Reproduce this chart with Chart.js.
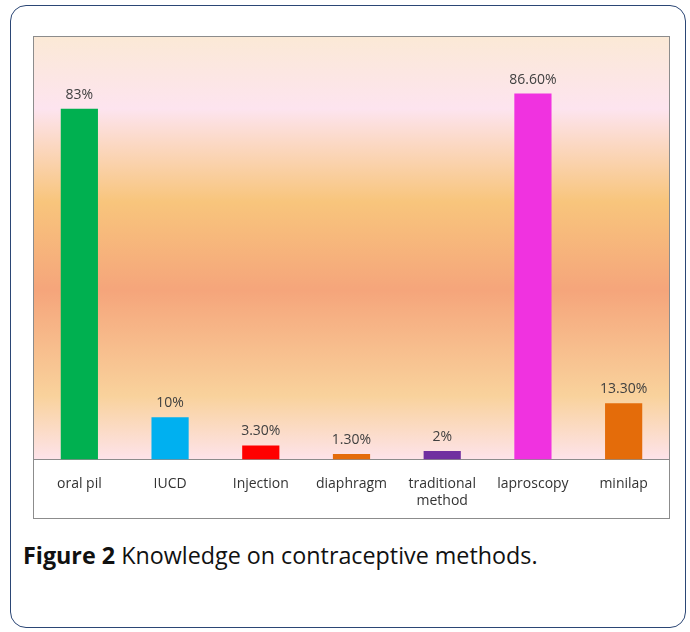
<!DOCTYPE html>
<html>
<head>
<meta charset="utf-8">
<script src="https://cdn.jsdelivr.net/npm/chart.js@4.4.0/dist/chart.umd.min.js"></script>
<style>
  body { margin: 0; background: #fff; font-family: "Open Sans", sans-serif; }
  #frame {
    position: absolute; left: 10px; top: 5px; width: 676px; height: 623px;
    box-sizing: border-box; border: 1.5px solid #2b4675; border-radius: 16px;
  }
  #box {
    position: absolute; left: 33px; top: 36px; width: 637px; height: 483px;
    box-sizing: border-box; border: 1px solid #8c8c8c;
  }
  #chart { position: absolute; left: 0; top: 0; }
  #caption {
    position: absolute; left: 23px; top: 540px; font-size: 23.3px; line-height: 30px; color: #111;
  }
</style>
</head>
<body>
<div id="frame"></div>
<div id="box"><canvas id="chart" width="635" height="480"></canvas></div>
<div id="caption"><b>Figure 2</b> Knowledge on contraceptive methods.</div>
<script>
// chart data
const methods = ["oral pil", "IUCD", "Injection", "diaphragm", ["traditional", "method"], "laproscopy", "minilap"];
const knowledge = [83, 10, 3.3, 1.3, 2, 86.6, 13.3];
const valueLabels = ["83%", "10%", "3.30%", "1.30%", "2%", "86.60%", "13.30%"];
const barColors = ["#00b050", "#00b0f0", "#ff0000", "#e46c0a", "#7030a0", "#f032e0", "#e46c0a"];

// soft gradient behind the bars
const backdrop = {
  id: "backdrop",
  beforeDraw(chart) {
    const { ctx, chartArea: a } = chart;
    const g = ctx.createLinearGradient(0, a.top, 0, a.bottom);
    g.addColorStop(0, "#fbe9d6");
    g.addColorStop(0.17, "#fde4ef");
    g.addColorStop(0.39, "#f8c57c");
    g.addColorStop(0.6, "#f5a57b");
    g.addColorStop(0.85, "#f9d29c");
    g.addColorStop(1, "#fde3ea");
    ctx.save();
    ctx.fillStyle = g;
    ctx.fillRect(a.left, a.top, a.right - a.left, a.bottom - a.top);
    ctx.restore();
  }
};

// percentage labels above each bar
const barLabels = {
  id: "barLabels",
  afterDatasetsDraw(chart) {
    const ctx = chart.ctx;
    const meta = chart.getDatasetMeta(0);
    ctx.save();
    ctx.font = "14px 'Open Sans', sans-serif";
    ctx.fillStyle = "#404040";
    ctx.textAlign = "center";
    ctx.textBaseline = "bottom";
    meta.data.forEach((bar, i) => {
      ctx.fillText(valueLabels[i], bar.x, bar.y - 7);
    });
    ctx.restore();
  }
};

new Chart(document.getElementById("chart"), {
  type: "bar",
  data: {
    labels: methods,
    datasets: [{
      data: knowledge,
      backgroundColor: barColors,
      barPercentage: 0.41,
      categoryPercentage: 1
    }]
  },
  options: {
    responsive: false,
    animation: false,
    layout: { padding: 0 },
    plugins: { legend: { display: false }, tooltip: { enabled: false } },
    scales: {
      y: { display: false, min: 0, max: 100 },
      x: {
        grid: { display: false },
        border: { display: true, color: "#8c8c8c", width: 1 },
        ticks: {
          color: "#333",
          font: { family: "'Open Sans', sans-serif", size: 14 },
          padding: 8,
          maxRotation: 0,
          autoSkip: false
        }
      }
    }
  },
  plugins: [backdrop, barLabels]
});
</script>
</body>
</html>
